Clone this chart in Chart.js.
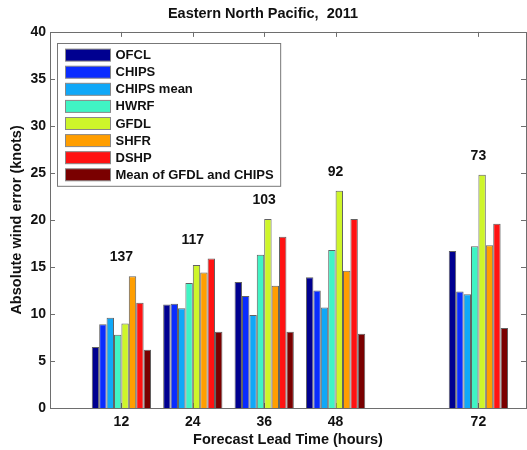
<!DOCTYPE html>
<html>
<head>
<meta charset="utf-8">
<script src="https://cdn.jsdelivr.net/npm/chart.js@4"></script>
<style>
  html, body { margin: 0; padding: 0; background: #fff; }
  #wrap { width: 527px; height: 450px; }
</style>
</head>
<body>
<div id="wrap"><canvas id="chart" width="527" height="450"></canvas></div>
<script>
// forecast lead times (hours) and number of cases at each
const hours = [12, 24, 36, 48, 72];
const caseCounts = [137, 117, 103, 92, 73];
const yTicks = [0, 5, 10, 15, 20, 25, 30, 35, 40];

// absolute wind error (knots) per model
const ofcl      = [6.5, 11.0, 13.4, 13.9, 16.7];
const chips     = [8.9, 11.1, 11.9, 12.5, 12.4];
const chipsMean = [9.6, 10.6,  9.9, 10.7, 12.1];
const hwrf      = [7.8, 13.3, 16.3, 16.8, 17.2];
const gfdl      = [9.0, 15.2, 20.1, 23.1, 24.8];
const shfr      = [14.0, 14.4, 13.0, 14.6, 17.3];
const dshp      = [11.2, 15.9, 18.2, 20.1, 19.6];
const meanGfdlChips = [6.2, 8.1, 8.1, 7.9, 8.5];

const FONT = '"Liberation Sans", Arial, sans-serif';

function series(label, values, color) {
    return {
        label: label,
        data: hours.map((h, i) => ({ x: h, y: values[i] })),
        backgroundColor: color,
        borderColor: 'rgba(70,70,70,0.85)',
        borderWidth: 1,
        barPercentage: 1.0,
        categoryPercentage: 0.83
    };
}

// Matlab-style box with inward ticks
const frameTicks = {
    id: 'frameTicks',
    beforeDatasetsDraw(chart) {
        const { ctx, chartArea: a, scales } = chart;
        ctx.save();
        ctx.strokeStyle = '#6e6e6e';
        ctx.lineWidth = 1;
        ctx.beginPath();
        scales.y.ticks.forEach(t => {
            const py = Math.round(scales.y.getPixelForValue(t.value)) + 0.5;
            ctx.moveTo(a.left, py); ctx.lineTo(a.left + 5, py);
            ctx.moveTo(a.right, py); ctx.lineTo(a.right - 5, py);
        });
        scales.x.ticks.forEach(t => {
            const px = Math.round(scales.x.getPixelForValue(t.value)) + 0.5;
            ctx.moveTo(px, a.top); ctx.lineTo(px, a.top + 5);
            ctx.moveTo(px, a.bottom); ctx.lineTo(px, a.bottom - 5);
        });
        ctx.stroke();
        ctx.restore();
    },
    afterDatasetsDraw(chart) {
        const { ctx, chartArea: a } = chart;
        ctx.save();
        ctx.strokeStyle = '#6e6e6e';
        ctx.lineWidth = 1;
        ctx.strokeRect(Math.round(a.left) + 0.5, Math.round(a.top) + 0.5,
                       Math.round(a.right - a.left), Math.round(a.bottom - a.top));
        ctx.restore();
    }
};

// number of cases above each group
const caseLabels = {
    id: 'caseLabels',
    afterDatasetsDraw(chart) {
        const { ctx, scales } = chart;
        const sets = chart.data.datasets;
        ctx.save();
        ctx.font = 'bold 14px ' + FONT;
        ctx.fillStyle = '#111';
        ctx.textAlign = 'center';
        ctx.textBaseline = 'middle';
        hours.forEach((h, i) => {
            const top = Math.max(...sets.map(d => d.data[i].y));
            ctx.fillText(String(caseCounts[i]), scales.x.getPixelForValue(h), scales.y.getPixelForValue(top + 2));
        });
        ctx.restore();
    }
};

// legend box inside the plot, top left
const boxLegend = {
    id: 'boxLegend',
    afterDraw(chart) {
        const { ctx, chartArea: a } = chart;
        const sets = chart.data.datasets;
        ctx.save();
        ctx.font = 'bold 13px ' + FONT;
        const textW = Math.max(...sets.map(d => ctx.measureText(d.label).width));
        const x0 = Math.round(a.left) + 7.5, y0 = Math.round(a.top) + 11.5;
        const rowH = 17.1;
        const w = 8 + 45 + 5 + textW + 7;
        const h = rowH * sets.length + 6;
        ctx.fillStyle = '#fff';
        ctx.fillRect(x0, y0, w, h);
        ctx.strokeStyle = '#777';
        ctx.lineWidth = 1;
        ctx.strokeRect(x0, y0, w, h);
        ctx.textBaseline = 'middle';
        sets.forEach((d, i) => {
            const cy = y0 + 11.6 + i * rowH;
            ctx.fillStyle = d.backgroundColor;
            ctx.fillRect(x0 + 8, cy - 6, 45, 12);
            ctx.strokeStyle = '#888';
            ctx.strokeRect(x0 + 8, cy - 6, 45, 12);
            ctx.fillStyle = '#111';
            ctx.fillText(d.label, x0 + 58, cy + 0.5);
        });
        ctx.restore();
    }
};

new Chart(document.getElementById('chart'), {
    type: 'bar',
    data: {
        datasets: [
            series('OFCL', ofcl, '#000090'),
            series('CHIPS', chips, '#0a2cff'),
            series('CHIPS mean', chipsMean, '#10a8f8'),
            series('HWRF', hwrf, '#40f4c4'),
            series('GFDL', gfdl, '#cef52a'),
            series('SHFR', shfr, '#ff9e00'),
            series('DSHP', dshp, '#ff1212'),
            series('Mean of GFDL and CHIPS', meanGfdlChips, '#7a0000')
        ]
    },
    options: {
        responsive: false,
        animation: false,
        layout: { padding: { top: 0, right: 1, left: 0, bottom: 0 } },
        plugins: {
            legend: { display: false },
            tooltip: { enabled: false },
            title: {
                display: true,
                text: 'Eastern North Pacific,  2011',
                color: '#111',
                font: { family: FONT, size: 14.5, weight: 'bold' },
                padding: { top: 5, bottom: 9.5 }
            }
        },
        scales: {
            x: {
                type: 'linear',
                min: 0,
                max: 80,
                offset: false,
                afterBuildTicks: s => { s.ticks = hours.map(v => ({ value: v })); },
                afterFit: s => { s.height = 42; },
                grid: { display: false, drawTicks: false },
                border: { display: false },
                ticks: {
                    autoSkip: false,
                    maxRotation: 0,
                    padding: 6,
                    color: '#111',
                    font: { family: FONT, size: 14, weight: 'bold' }
                },
                title: {
                    display: true,
                    text: 'Forecast Lead Time (hours)',
                    color: '#111',
                    padding: { top: 0, bottom: 1 },
                    font: { family: FONT, size: 14.5, weight: 'bold' }
                }
            },
            y: {
                min: 0,
                max: 40,
                afterBuildTicks: s => { s.ticks = yTicks.map(v => ({ value: v })); },
                afterFit: s => { s.width = 50; },
                grid: { display: false, drawTicks: false },
                border: { display: false },
                ticks: {
                    padding: 4,
                    color: '#111',
                    font: { family: FONT, size: 14, weight: 'bold' }
                },
                title: {
                    display: true,
                    text: 'Absolute wind error (knots)',
                    color: '#111',
                    padding: { top: 8, bottom: 0 },
                    font: { family: FONT, size: 14.5, weight: 'bold' }
                }
            }
        }
    },
    plugins: [frameTicks, caseLabels, boxLegend]
});
</script>
</body>
</html>
